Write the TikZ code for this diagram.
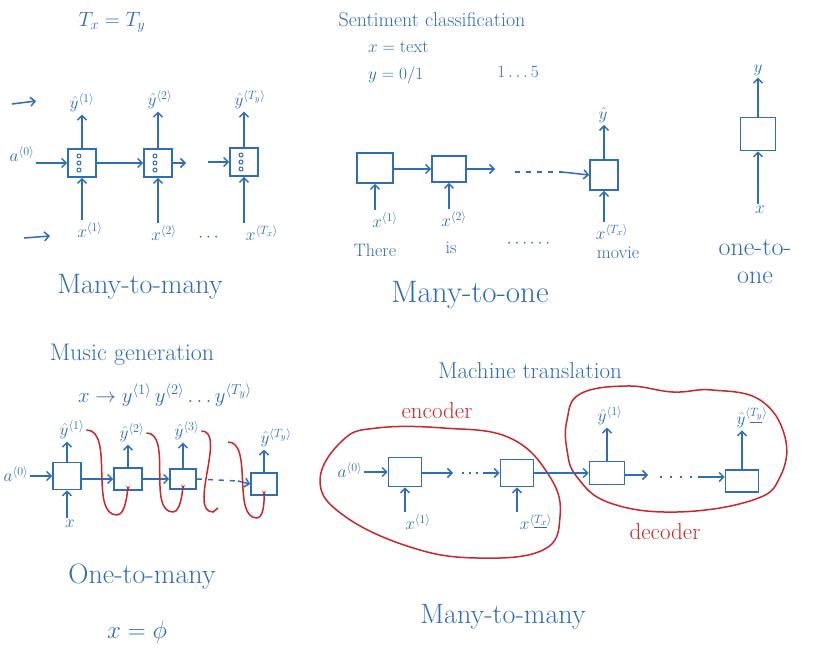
\documentclass[tikz,border=0pt]{standalone}
\usepackage{amsmath,amssymb}
\usepackage{xcolor}
\usepackage{tikz}
\usetikzlibrary{calc,arrows.meta}
\definecolor{ink}{HTML}{2F6DB5}
\definecolor{pen}{HTML}{C8282D}
\tikzset{
  cell/.style={draw=ink, line width=1.6pt, minimum width=28pt, minimum height=28pt, inner sep=0pt},
  flow/.style={draw=ink, line width=1.5pt, -{Straight Barb[length=4.5pt,width=9pt]}},
  trail/.style={draw=ink, line width=1.5pt, dash pattern=on 5pt off 6pt},
  feed/.style={draw=pen, line width=1.5pt},
  blob/.style={draw=pen, line width=1.5pt},
  lab/.style={text=ink, font=\fontsize{18}{20}\selectfont, inner sep=2pt},
  head/.style={text=ink, font=\fontsize{22}{25}\selectfont},
  big/.style={text=ink, font=\fontsize{28}{32}\selectfont},
  tag/.style={text=pen, font=\fontsize{23}{26}\selectfont}
}
\newcommand{\CellDots}[1]{%
  \foreach \dy in {-7,0,7} \draw[ink, line width=1pt] ($(#1)+(-3,\dy)$) circle (2pt);
}
\begin{document}
\begin{tikzpicture}[x=1pt,y=-1pt]
  \useasboundingbox[fill=white] (0,0) rectangle (828,663);

  % many-to-many, Tx = Ty
  \node[head] (tt) at (112,22) {$T_x = T_y$};
  \coordinate (p1a) at (12,104); \coordinate (p1b) at (36,101);
  \coordinate (p2a) at (24,238); \coordinate (p2b) at (50,236);
  \draw[flow] (p1a) -- (p1b);
  \draw[flow] (p2a) -- (p2b);
  \node[cell] (c1) at (82,163) {};
  \node[cell] (c2) at (158,163) {};
  \node[cell] (c3) at (244,162) {};
  \CellDots{c1} \CellDots{c2} \CellDots{c3}
  \node[lab] (y1) at (82,103) {$\hat{y}^{\langle 1\rangle}$};
  \node[lab] (y2) at (160,100) {$\hat{y}^{\langle 2\rangle}$};
  \node[lab] (y3) at (250,100) {$\hat{y}^{\langle T_y\rangle}$};
  \node[lab] (x1) at (90,230) {$x^{\langle 1\rangle}$};
  \node[lab] (x2) at (164,233) {$x^{\langle 2\rangle}$};
  \node[lab] (x3) at (262,233) {$x^{\langle T_x\rangle}$};
  \node[lab] (xd) at (210,238) {$\cdots$};
  \node[lab] (a0) at (22,154) {$a^{\langle 0\rangle}$};
  \coordinate (c2o) at (186,163); \coordinate (c3i) at (208,162);
  \draw[flow] (a0.east |- c1) -- (c1.west);
  \draw[flow] (c1) -- (c2);
  \draw[flow] (c2.east) -- (c2o);
  \draw[flow] (c3i) -- (c3.west);
  \foreach \i in {1,2,3} {
    \draw[flow] (c\i.north) -- (y\i.south -| c\i.north);
    \draw[flow] (x\i.north -| c\i.south) -- (c\i.south);
  }
  \node[big] (mm1) at (140,287) {Many-to-many};

  % many-to-one, sentiment classification
  \node[head, font=\fontsize{20}{24}\selectfont] (sc) at (432,20) {Sentiment classification};
  \node[lab, anchor=west] (sx) at (366,47) {$x = \text{text}$};
  \node[lab, anchor=west] (sy) at (366,75) {$y = 0/1$};
  \node[lab] (sr) at (518,72) {$1 \ldots 5$};
  \node[cell, minimum width=36pt, minimum height=30pt] (s1) at (375,168) {};
  \node[cell, minimum width=34pt, minimum height=26pt] (s2) at (449,169) {};
  \node[cell, minimum width=28pt, minimum height=30pt] (s3) at (604,175) {};
  \coordinate (s2o) at (495,169);
  \coordinate (sd1) at (515,172); \coordinate (sd2) at (562,172);
  \draw[flow] (s1.east |- s2) -- (s2.west);
  \draw[flow] (s2.east) -- (s2o);
  \draw[trail] (sd1) -- (sd2);
  \draw[flow] (sd2) -- (s3.west);
  \node[lab] (sx1) at (385,220) {$x^{\langle 1\rangle}$};
  \node[lab] (sx2) at (454,219) {$x^{\langle 2\rangle}$};
  \node[lab] (sx3) at (612,232) {$x^{\langle T_x\rangle}$};
  \node[lab] (w1) at (375,250) {There};
  \node[lab] (w2) at (451,248) {is};
  \node[lab] (wd) at (530,244) {$\cdots\cdots$};
  \node[lab] (w3) at (618,253) {movie};
  \node[lab] (sy3) at (603,115) {$\hat{y}$};
  \draw[flow] (s3.north) -- (sy3.south -| s3.north);
  \foreach \i in {1,2,3} \draw[flow] (sx\i.north -| s\i.south) -- (s\i.south);
  \node[big, font=\fontsize{31}{34}\selectfont] (mo) at (470,295) {Many-to-one};

  % one-to-one
  \node[cell, minimum width=35pt, minimum height=33pt] (o1) at (758,134) {};
  \node[lab] (oy) at (758,70) {$y$};
  \node[lab] (ox) at (760,210) {$x$};
  \draw[flow] (o1.north) -- (oy.south -| o1.north);
  \draw[flow] (ox.north -| o1.south) -- (o1.south);
  \node[head, font=\fontsize{26}{28}\selectfont, align=center] (oo) at (755,262) {one-to-\\one};

  % one-to-many, music generation
  \node[head, font=\fontsize{24}{28}\selectfont] (mg) at (132,355) {Music generation};
  \node[head] (ms) at (165,395) {$x \rightarrow y^{\langle 1\rangle}\, y^{\langle 2\rangle} \ldots y^{\langle T_y\rangle}$};
  \node[cell, minimum height=27pt] (m1) at (67,476) {};
  \node[cell, minimum height=22pt] (m2) at (128,479) {};
  \node[cell, minimum width=26pt, minimum height=20pt] (m3) at (183,479) {};
  \node[cell, minimum width=26pt, minimum height=22pt] (m4) at (264,484) {};
  \node[lab] (my1) at (72,430) {$\hat{y}^{\langle 1\rangle}$};
  \node[lab] (my2) at (132,433) {$\hat{y}^{\langle 2\rangle}$};
  \node[lab] (my3) at (187,431) {$\hat{y}^{\langle 3\rangle}$};
  \node[lab] (my4) at (276,438) {$\hat{y}^{\langle T_y\rangle}$};
  \node[lab] (ma) at (16,474) {$a^{\langle 0\rangle}$};
  \node[lab] (mx) at (70,524) {$x$};
  \coordinate (md2) at (238,481);
  \draw[flow] (ma.east |- m1) -- (m1.west);
  \draw[flow] (m1.east |- m2) -- (m2.west);
  \draw[flow] (m2) -- (m3);
  \draw[trail] (m3.east) -- (md2);
  \draw[flow] (md2) -- (m4.west);
  \draw[flow] (mx.north -| m1.south) -- (m1.south);
  \foreach \i in {1,2,3,4} \draw[flow] (m\i.north) -- (my\i.south -| m\i.north);
  \coordinate (mb2) at (117,515); \coordinate (mb3) at (173,512);
  \coordinate (mt) at (213,512); \coordinate (mf) at (228,442);
  \coordinate (mb4) at (257,518);
  \draw[feed, -{Stealth[length=5pt]}] (my1.east) to[out=0,in=180,looseness=0.8] (mb2) to[out=0,in=90] (m2.south);
  \draw[feed, -{Stealth[length=5pt]}] (my2.east) to[out=0,in=180,looseness=0.8] (mb3) to[out=0,in=90] (m3.south);
  \draw[feed] (my3.east) to[out=0,in=180,looseness=0.8] (mt) -- ++(5,-4);
  \draw[feed, -{Stealth[length=5pt]}] (mf) to[out=0,in=180,looseness=0.8] (mb4) to[out=0,in=90] (m4.south);
  \node[big] (om) at (142,577) {One-to-many};
  \node[head, font=\fontsize{26}{28}\selectfont] (xp) at (137,632) {$x = \phi$};

  % many-to-many, machine translation
  \node[head, font=\fontsize{23}{26}\selectfont] (mt2) at (530,371) {Machine translation};
  \draw[blob] plot[smooth cycle, tension=0.7] coordinates {
    (320,480) (343,440) (377,428) (443,428) (510,438) (550,477)
    (560,517) (543,550) (477,558) (410,547) (343,515)};
  \draw[blob] plot[smooth cycle, tension=0.7] coordinates {
    (567,420) (580,394) (627,386) (673,392) (712,390) (760,400)
    (785,437) (780,477) (753,500) (677,512) (610,503) (577,477) (567,450)};
  \node[tag] (enc) at (437,411) {encoder};
  \node[tag] (dec) at (665,532) {decoder};
  \node[cell, minimum width=33pt, minimum height=29pt] (e1) at (405,472) {};
  \node[cell, minimum width=33pt, minimum height=27pt] (e2) at (517,473) {};
  \node[cell, minimum width=35pt, minimum height=23pt] (d1) at (607,473) {};
  \node[cell, minimum width=33pt, minimum height=22pt] (d2) at (742,481) {};
  \node[lab] (ea) at (350,470) {$a^{\langle 0\rangle}$};
  \node[lab] (ex1) at (418,522) {$x^{\langle 1\rangle}$};
  \node[lab] (ex2) at (536,522) {$x^{\langle \underline{T_x}\rangle}$};
  \node[lab] (dy1) at (610,416) {$\hat{y}^{\langle 1\rangle}$};
  \node[lab] (dy2) at (752,418) {$\hat{y}^{\langle \underline{T_y}\rangle}$};
  \coordinate (eo) at (453,473); \coordinate (ed1) at (462,473); \coordinate (ed2) at (484,473);
  \coordinate (do) at (648,475); \coordinate (dd1) at (660,477); \coordinate (dd2) at (698,477);
  \draw[flow] (ea.east |- e1) -- (e1.west);
  \draw[flow] (e1.east |- eo) -- (eo);
  \draw[trail, dash pattern=on 2pt off 5pt] (ed1) -- (ed2);
  \draw[flow] (ed2) -- (e2.west);
  \draw[flow] (e2) -- (d1);
  \draw[flow] (d1.east |- do) -- (do);
  \draw[trail, dash pattern=on 2pt off 8pt] (dd1) -- (dd2);
  \draw[flow] (dd2) -- (d2.west |- dd2);
  \draw[flow] (ex1.north -| e1.south) -- (e1.south);
  \draw[flow] (ex2.north -| e2.south) -- (e2.south);
  \draw[flow] (d1.north) -- (dy1.south -| d1.north);
  \draw[flow] (d2.north) -- (dy2.south -| d2.north);
  \node[big] (mm2) at (503,617) {Many-to-many};
\end{tikzpicture}
\end{document}
